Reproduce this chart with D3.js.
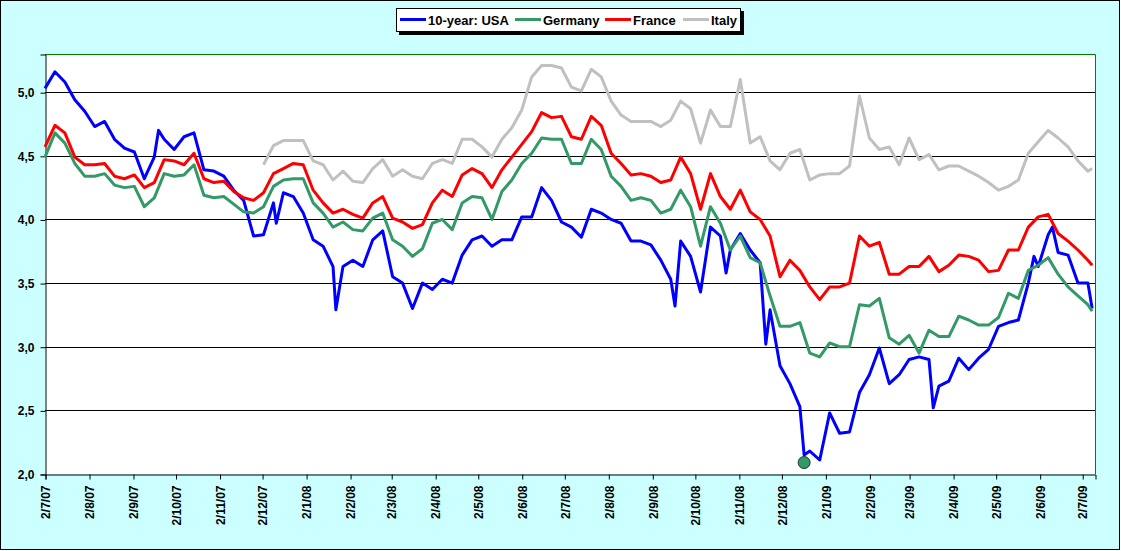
<!DOCTYPE html>
<html>
<head>
<meta charset="utf-8">
<script src="https://cdn.jsdelivr.net/npm/d3@7"></script>
<style>
	body { margin: 0; background: #fff; }
	svg text { font-family: "Liberation Sans", Arial, sans-serif; font-weight: bold; }
</style>
</head>
<body>
<svg id="chart" width="1121" height="551"></svg>
<script>
// Data: weekly readings from 2 Jul 2007, last one is 9 Jul 2009
const START_DAY = new Date(2007, 6, 2);
const END_DAY = new Date(2009, 6, 9);

const usa = [
	5.03, 5.16, 5.08, 4.94, 4.85, 4.73, 4.77, 4.63, 4.56, 4.53,
	4.32, 4.49, 4.63, 4.55, 4.65, 4.68, 4.39, 4.38, 4.34, 4.23,
	4.15, 3.87, 3.88, 4.13, 4.21, 4.18, 4.05, 3.84,
	3.79, 3.63, 3.63, 3.68, 3.63, 3.84, 3.91, 3.55, 3.50, 3.30,
	3.50, 3.45, 3.53, 3.50, 3.72, 3.84, 3.87, 3.79, 3.84, 3.84,
	4.02, 4.02, 4.25, 4.15, 3.98, 3.94, 3.86,
	4.08, 4.05, 4.00, 3.97, 3.83, 3.83, 3.80, 3.68, 3.53, 3.83,
	3.71, 3.43, 3.94, 3.87, 3.76, 3.89, 3.76, 3.66, 3.29, 2.85,
	2.71, 2.53, 2.18, 2.11, 2.48, 2.32, 2.33, 2.64,
	2.78, 2.99, 2.71, 2.78, 2.90, 2.92, 2.90, 2.69, 2.73, 2.91,
	2.82, 2.91, 2.98, 3.16, 3.19, 3.21, 3.50, 3.63, 3.88, 3.74,
	3.72, 3.50, 3.50, 3.30
];
// single-day spikes of the USA yield that fall between the weekly readings
const usaExtraDates = ["2007-09-20", "2007-12-12", "2008-01-23", "2008-09-18", "2008-10-24",
	"2008-11-21", "2008-12-18", "2009-03-19", "2009-05-29", "2009-06-11"];
const usaExtraValues = [4.70, 3.97, 3.29, 3.32, 3.58, 3.02, 2.15, 2.52, 3.71, 3.94];

const germany = [
	4.49, 4.68, 4.60, 4.44, 4.34, 4.34, 4.36, 4.27, 4.25, 4.26,
	4.10, 4.17, 4.36, 4.34, 4.35, 4.43, 4.19, 4.17, 4.18, 4.12,
	4.06, 4.05, 4.10, 4.26, 4.31, 4.32, 4.32, 4.13,
	4.05, 3.94, 3.98, 3.92, 3.91, 4.01, 4.05, 3.84, 3.79, 3.71,
	3.77, 3.97, 4.00, 3.92, 4.13, 4.18, 4.17, 4.00, 4.22, 4.31,
	4.44, 4.52, 4.64, 4.63, 4.63, 4.44, 4.44,
	4.63, 4.55, 4.34, 4.26, 4.15, 4.17, 4.15, 4.05, 4.08, 4.23,
	4.10, 3.79, 4.10, 3.97, 3.76, 3.87, 3.70, 3.66, 3.40, 3.16,
	3.16, 3.19, 2.95, 2.92, 3.03, 3.00, 3.00, 3.33,
	3.32, 3.38, 3.07, 3.02, 3.09, 2.95, 3.13, 3.08, 3.08, 3.24,
	3.21, 3.17, 3.17, 3.23, 3.42, 3.38, 3.60, 3.64, 3.70, 3.57,
	3.47, 3.40, 3.33, 3.28
];
const france = [
	4.57, 4.74, 4.68, 4.49, 4.43, 4.43, 4.44, 4.34, 4.32, 4.35,
	4.25, 4.29, 4.47, 4.46, 4.43, 4.52, 4.32, 4.29, 4.30, 4.22,
	4.17, 4.15, 4.21, 4.36, 4.40, 4.44, 4.43, 4.23,
	4.13, 4.05, 4.08, 4.04, 4.01, 4.13, 4.18, 4.01, 3.98, 3.93,
	3.96, 4.13, 4.23, 4.18, 4.35, 4.40, 4.36, 4.25, 4.39, 4.49,
	4.59, 4.69, 4.84, 4.80, 4.81, 4.65, 4.63,
	4.81, 4.74, 4.52, 4.44, 4.35, 4.36, 4.34, 4.29, 4.31, 4.49,
	4.36, 4.08, 4.36, 4.18, 4.08, 4.23, 4.06, 4.00, 3.87, 3.55,
	3.68, 3.60, 3.47, 3.37, 3.47, 3.47, 3.50, 3.87,
	3.79, 3.82, 3.57, 3.57, 3.63, 3.63, 3.71, 3.59, 3.64, 3.72,
	3.71, 3.68, 3.59, 3.60, 3.76, 3.76, 3.94, 4.02, 4.04, 3.89,
	3.83, 3.76, 3.68, 3.64
];
// Italy series only starts on 2/12/07
const italy = [
	null, null, null, null, null, null, null, null, null, null,
	null, null, null, null, null, null, null, null, null, null,
	null, null, 4.43, 4.58, 4.62, 4.62, 4.62, 4.46,
	4.43, 4.31, 4.38, 4.30, 4.29, 4.40, 4.47, 4.34, 4.39, 4.34,
	4.32, 4.44, 4.47, 4.44, 4.63, 4.63, 4.57, 4.49, 4.63, 4.72,
	4.86, 5.12, 5.21, 5.21, 5.19, 5.04, 5.01,
	5.18, 5.12, 4.93, 4.82, 4.77, 4.77, 4.77, 4.73, 4.78, 4.93,
	4.87, 4.60, 4.86, 4.73, 4.73, 5.10, 4.60, 4.65, 4.46, 4.39,
	4.52, 4.55, 4.31, 4.35, 4.36, 4.36, 4.42, 4.97,
	4.64, 4.55, 4.57, 4.43, 4.64, 4.47, 4.51, 4.39, 4.42, 4.42,
	4.38, 4.34, 4.29, 4.23, 4.26, 4.31, 4.52, 4.61, 4.70, 4.64,
	4.57, 4.46, 4.38, 4.40
];

// the marked low of the USA yield
const lowDate = new Date(2008, 11, 18);
const lowValue = 2.09;

const seriesNames = ["10-year: USA", "Germany", "France", "Italy"];
const seriesColors = ["#0000ff", "#339966", "#ff0000", "#c0c0c0"];
const yTicks = [2.0, 2.5, 3.0, 3.5, 4.0, 4.5, 5.0];

const dates = d3.range(usa.length - 1).map(k => d3.timeDay.offset(START_DAY, 7 * k));
dates.push(END_DAY);

const parseDay = d3.timeParse("%Y-%m-%d");

function toPoints(values, extraDates = [], extraValues = []) {
	const pts = values.map((v, j) => ({date: dates[j], v: v}));
	extraDates.forEach((d, i) => pts.push({date: parseDay(d), v: extraValues[i]}));
	return pts.sort((a, b) => a.date - b.date);
}

const svg = d3.select("#chart");

// chart area + border
svg.append("rect")
	.attr("x", 0.5).attr("y", 0.5)
	.attr("width", 1119).attr("height", 549)
	.attr("fill", "#ccffff")
	.attr("stroke", "#000");

const plotLeft = 45, plotRight = 1095, plotTop = 54, plotBottom = 474;

const x = d3.scaleTime()
	.domain([START_DAY, new Date(2009, 6, 11)])
	.range([plotLeft, plotRight]);

const y = d3.scaleLinear()
	.domain([2, 5.3])
	.range([plotBottom, plotTop]);

// plot area
svg.append("rect")
	.attr("x", plotLeft).attr("y", plotTop)
	.attr("width", plotRight - plotLeft).attr("height", plotBottom - plotTop)
	.attr("fill", "#fff");

svg.append("path")
	.attr("d", `M${plotLeft},${plotTop + 0.5}H${plotRight + 0.5}V${plotBottom}`)
	.attr("fill", "none")
	.attr("stroke", "#008000");

// gridlines
svg.append("g")
	.selectAll("line")
	.data(yTicks.slice(1))
	.enter()
	.append("line")
		.attr("x1", plotLeft).attr("x2", plotRight)
		.attr("y1", d => Math.round(y(d)) + 0.5)
		.attr("y2", d => Math.round(y(d)) + 0.5)
		.attr("stroke", "#000");

// axes
const yAxis = svg.append("g")
	.attr("transform", `translate(${plotLeft + 0.5},0.5)`)
	.call(d3.axisLeft(y)
		.tickValues(yTicks)
		.tickSize(5)
		.tickPadding(6)
		.tickFormat(d => d3.format(".1f")(d).replace(".", ",")));

const monthTicks = d3.range(25).map(i => d3.timeMonth.offset(START_DAY, i));

const xAxis = svg.append("g")
	.attr("transform", `translate(0.5,${plotBottom + 0.5})`)
	.call(d3.axisBottom(x)
		.tickValues(monthTicks)
		.tickSize(5)
		.tickFormat(d3.timeFormat("%-d/%-m/%y")));

xAxis.selectAll("text")
	.attr("transform", "rotate(-90)")
	.attr("x", -11)
	.attr("y", 0)
	.attr("dy", "0.35em")
	.style("text-anchor", "end");

[xAxis, yAxis].forEach(ax => {
	ax.select(".domain").attr("stroke", "#000");
	ax.selectAll(".tick line").attr("stroke", "#000");
	ax.selectAll("text")
		.attr("fill", "#000")
		.attr("font-size", 12)
		.attr("font-family", "Liberation Sans, Arial, sans-serif")
		.attr("font-weight", "bold");
});

// lines
const allSeries = [
	toPoints(usa, usaExtraDates, usaExtraValues),
	toPoints(germany),
	toPoints(france),
	toPoints(italy)
];

const line = d3.line()
	.defined(d => d.v != null)
	.x(d => x(d.date))
	.y(d => y(d.v));

const plot_area = svg.append("g");

allSeries.forEach((pts, i) => {
	plot_area.append("path")
		.datum(pts)
		.attr("d", line)
		.attr("fill", "none")
		.attr("stroke", seriesColors[i])
		.attr("stroke-width", 3)
		.attr("stroke-linejoin", "round");
});

plot_area.append("circle")
	.attr("cx", x(lowDate))
	.attr("cy", y(lowValue))
	.attr("r", 6)
	.attr("fill", "#339966")
	.attr("stroke", "#1a3a2a")
	.attr("stroke-width", 1);

// legend
const legend = svg.append("g");

legend.append("rect")
	.attr("x", 399).attr("y", 11)
	.attr("width", 345).attr("height", 24)
	.attr("fill", "#000");

legend.append("rect")
	.attr("x", 396.5).attr("y", 8.5)
	.attr("width", 344).attr("height", 23)
	.attr("fill", "#fff")
	.attr("stroke", "#000");

const legendX = [400, 515, 605, 683];

seriesNames.forEach((name, i) => {
	legend.append("line")
		.attr("x1", legendX[i]).attr("x2", legendX[i] + 26)
		.attr("y1", 19.5).attr("y2", 19.5)
		.attr("stroke", seriesColors[i])
		.attr("stroke-width", 3);
	legend.append("text")
		.attr("x", legendX[i] + 28)
		.attr("y", 24.5)
		.attr("font-size", 13)
		.text(name);
});
</script>
</body>
</html>
